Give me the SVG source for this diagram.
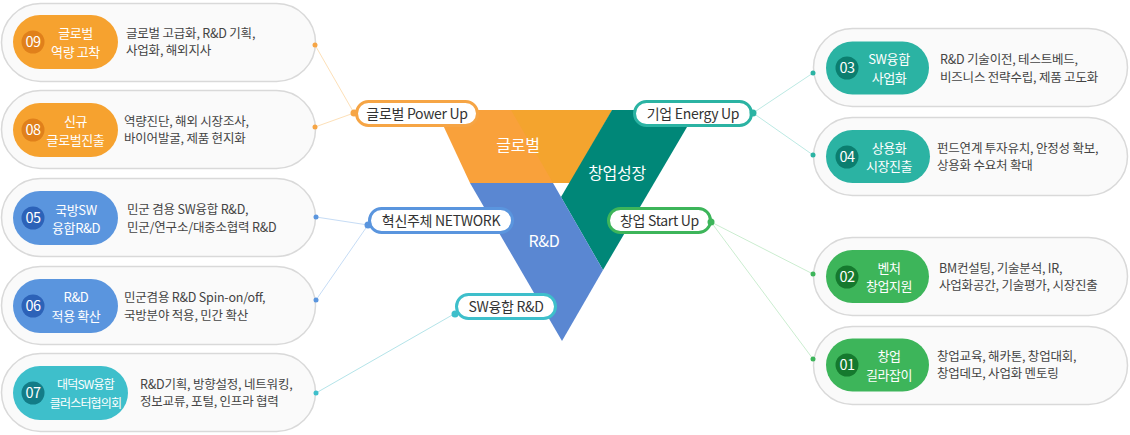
<svg xmlns="http://www.w3.org/2000/svg" width="1130" height="435" viewBox="0 0 1130 435">
<style>
text{font-family:"Noto Sans CJK KR","Noto Sans",sans-serif}
.card{fill:#FAFAFA;stroke:#D9D9D9;stroke-width:1.5}
.lbl{fill:#fff;font-size:13px;text-anchor:middle;letter-spacing:-0.4px}
.num{fill:#fff;font-size:14.5px;text-anchor:middle;letter-spacing:-0.5px}
.desc{fill:#444;font-size:12.5px;letter-spacing:-0.2px}
.tag{fill:#fff;stroke-width:3}
.tagt{fill:#333;font-size:14px;text-anchor:middle;letter-spacing:-0.3px}
.tri{fill:#fff;font-size:16px;text-anchor:middle;letter-spacing:-0.3px}
.or{fill:#F6A22F}.orc{fill:#E0801B}
.bl{fill:#5A95DE}.blc{fill:#2C62B8}
.cy{fill:#3EBFCB}.cyc{fill:#137C87}
.te{fill:#2BB3A3}.tec{fill:#0B7E6F}
.gr{fill:#3DB55A}.grc{fill:#15792E}
.conn line{stroke-width:1}
</style>
<rect width="1130" height="435" fill="#fff"/>

<g id="connectors" class="conn">
<line x1="315" y1="45" x2="354" y2="113" stroke="#FDE0B8"/>
<line x1="315" y1="127" x2="354" y2="113" stroke="#FDE0B8"/>
<line x1="316" y1="217" x2="368" y2="225" stroke="#C6DCF5"/>
<line x1="316" y1="300" x2="368" y2="225" stroke="#C6DCF5"/>
<line x1="316" y1="393" x2="454" y2="314" stroke="#B4E4E9"/>
<line x1="753" y1="113" x2="813" y2="73" stroke="#BCE9E3"/>
<line x1="753" y1="113" x2="813" y2="155" stroke="#BCE9E3"/>
<line x1="711" y1="222" x2="813" y2="274" stroke="#CBEDD0"/>
<line x1="711" y1="222" x2="813" y2="359" stroke="#CBEDD0"/>
</g>

<g id="triangle">
<polygon points="436,110 612,110 570,183 470,183" fill="#F9A13B"/>
<polygon points="511,110 612,110 570,183 553,183" fill="#F4A42E"/>
<polygon points="612,110 697,110 603,270 561,197" fill="#008778"/>
<polygon points="470,183 553,183 603,270 562,341" fill="#5A87D2"/>
<text class="tri" x="518" y="151">글로벌</text>
<text class="tri" x="617" y="179">창업성장</text>
<text class="tri" x="544" y="247">R&amp;D</text>
</g>

<g id="tag-global">
<rect class="tag" x="356.5" y="101.5" width="121" height="24" rx="12" stroke="#F6A545"/>
<text class="tagt" x="417" y="118.5">글로벌 Power Up</text>
<circle cx="354" cy="113" r="3.5" fill="#F6A545"/>
</g>
<g id="tag-energy">
<rect class="tag" x="634.5" y="101.5" width="117" height="24" rx="12" stroke="#2BB3A3"/>
<text class="tagt" x="693" y="118.5">기업 Energy Up</text>
<circle cx="753" cy="113" r="3.5" fill="#2BB3A3"/>
</g>
<g id="tag-network">
<rect class="tag" x="369.5" y="208.5" width="143" height="24" rx="12" stroke="#5A95DE"/>
<text class="tagt" x="441" y="225.5">혁신주체 NETWORK</text>
<circle cx="368" cy="225" r="3.5" fill="#5A95DE"/>
</g>
<g id="tag-startup">
<rect class="tag" x="608.5" y="208.5" width="102" height="24" rx="12" stroke="#3DB55A"/>
<text class="tagt" x="659.5" y="225.5">창업 Start Up</text>
<circle cx="711" cy="222" r="3.5" fill="#3DB55A"/>
</g>
<g id="tag-sw">
<rect class="tag" x="456.5" y="294.5" width="99" height="24" rx="12" stroke="#3EBFCB"/>
<text class="tagt" x="506" y="311.5">SW융합 R&amp;D</text>
<circle cx="455" cy="314" r="3.5" fill="#3EBFCB"/>
</g>

<g id="card-09">
<rect class="card" x="1.5" y="3.5" width="314" height="78" rx="39"/>
<rect class="or" x="13" y="15" width="105" height="54" rx="27"/>
<circle class="orc" cx="33" cy="42" r="11.5"/>
<text class="num" x="33" y="47">09</text>
<text class="lbl" x="75.5" y="38">글로벌</text>
<text class="lbl" x="75.5" y="56.5">역량 고착</text>
<text class="desc" x="126" y="37.5">글로벌 고급화, R&amp;D 기획,</text>
<text class="desc" x="126" y="55">사업화, 해외지사</text>
<circle cx="315" cy="45" r="2.5" fill="#F6A545"/>
</g>

<g id="card-08">
<rect class="card" x="1.5" y="90.5" width="314" height="78" rx="39"/>
<rect class="or" x="13" y="103" width="105" height="54" rx="27"/>
<circle class="orc" cx="33" cy="130" r="11.5"/>
<text class="num" x="33" y="135">08</text>
<text class="lbl" x="75.5" y="126">신규</text>
<text class="lbl" x="75.5" y="144.5">글로벌진출</text>
<text class="desc" x="124" y="125.5">역량진단, 해외 시장조사,</text>
<text class="desc" x="124" y="143">바이어발굴, 제품 현지화</text>
<circle cx="315" cy="127" r="2.5" fill="#F6A545"/>
</g>

<g id="card-05">
<rect class="card" x="1.5" y="178.5" width="314" height="78" rx="39"/>
<rect class="bl" x="13" y="191" width="105" height="54" rx="27"/>
<circle class="blc" cx="33" cy="218" r="11.5"/>
<text class="num" x="33" y="223">05</text>
<text class="lbl" x="76" y="214.5">국방SW</text>
<text class="lbl" x="76" y="233">융합R&amp;D</text>
<text class="desc" x="127" y="214">민군 겸용 SW융합 R&amp;D,</text>
<text class="desc" x="127" y="231.5">민군/연구소/대중소협력 R&amp;D</text>
<circle cx="316" cy="217" r="2.5" fill="#5A95DE"/>
</g>

<g id="card-06">
<rect class="card" x="1.5" y="266.5" width="314" height="78" rx="39"/>
<rect class="bl" x="13" y="279" width="105" height="54" rx="27"/>
<circle class="blc" cx="33" cy="306" r="11.5"/>
<text class="num" x="33" y="311">06</text>
<text class="lbl" x="76" y="302">R&amp;D</text>
<text class="lbl" x="76" y="320.5">적용 확산</text>
<text class="desc" x="124" y="302">민군겸용 R&amp;D Spin-on/off,</text>
<text class="desc" x="124" y="319.5">국방분야 적용, 민간 확산</text>
<circle cx="316" cy="300" r="2.5" fill="#5A95DE"/>
</g>

<g id="card-07">
<rect class="card" x="1.5" y="353.5" width="314" height="78" rx="39"/>
<rect class="cy" x="13" y="366" width="115" height="54" rx="27"/>
<circle class="cyc" cx="33" cy="393" r="11.5"/>
<text class="num" x="33" y="398">07</text>
<text class="lbl" x="85.5" y="389" style="font-size:12px;letter-spacing:-0.8px">대덕SW융합</text>
<text class="lbl" x="85.5" y="407.5" style="font-size:12px;letter-spacing:-0.8px">클러스터협의회</text>
<text class="desc" x="140" y="388.5">R&amp;D기획, 방향설정, 네트워킹,</text>
<text class="desc" x="140" y="406">정보교류, 포털, 인프라 협력</text>
<circle cx="316" cy="393" r="2.5" fill="#3EBFCB"/>
</g>

<g id="card-03">
<rect class="card" x="813.5" y="28.5" width="314" height="78" rx="39"/>
<rect class="te" x="826" y="41.5" width="103" height="53" rx="26.5"/>
<circle class="tec" cx="847" cy="68" r="11.5"/>
<text class="num" x="847" y="73">03</text>
<text class="lbl" x="889" y="64">SW융합</text>
<text class="lbl" x="889" y="82.5">사업화</text>
<text class="desc" x="940" y="64">R&amp;D 기술이전, 테스트베드,</text>
<text class="desc" x="940" y="81.5">비즈니스 전략수립, 제품 고도화</text>
<circle cx="813" cy="73" r="2.5" fill="#2BB3A3"/>
</g>

<g id="card-04">
<rect class="card" x="813.5" y="117.5" width="314" height="78" rx="39"/>
<rect class="te" x="826" y="130" width="104" height="53" rx="26.5"/>
<circle class="tec" cx="847" cy="157" r="11.5"/>
<text class="num" x="847" y="162">04</text>
<text class="lbl" x="889" y="152.5">상용화</text>
<text class="lbl" x="889" y="171">시장진출</text>
<text class="desc" x="937" y="152.5">펀드연계 투자유치, 안정성 확보,</text>
<text class="desc" x="937" y="170">상용화 수요처 확대</text>
<circle cx="813" cy="155" r="2.5" fill="#2BB3A3"/>
</g>

<g id="card-02">
<rect class="card" x="813.5" y="237.5" width="314" height="78" rx="39"/>
<rect class="gr" x="826" y="250" width="103" height="53" rx="26.5"/>
<circle class="grc" cx="847" cy="277" r="11.5"/>
<text class="num" x="847" y="282">02</text>
<text class="lbl" x="889" y="272.5">벤처</text>
<text class="lbl" x="889" y="291">창업지원</text>
<text class="desc" x="939" y="272.5">BM컨설팅, 기술분석, IR,</text>
<text class="desc" x="939" y="290">사업화공간, 기술평가, 시장진출</text>
<circle cx="813" cy="274" r="2.5" fill="#3DB55A"/>
</g>

<g id="card-01">
<rect class="card" x="813.5" y="326.5" width="314" height="78" rx="39"/>
<rect class="gr" x="826" y="338.5" width="103" height="53" rx="26.5"/>
<circle class="grc" cx="847" cy="365" r="11.5"/>
<text class="num" x="847" y="370">01</text>
<text class="lbl" x="889" y="361">창업</text>
<text class="lbl" x="889" y="379.5">길라잡이</text>
<text class="desc" x="937" y="360.5">창업교육, 해카톤, 창업대회,</text>
<text class="desc" x="937" y="378">창업데모, 사업화 멘토링</text>
<circle cx="813" cy="359" r="2.5" fill="#3DB55A"/>
</g>
</svg>
